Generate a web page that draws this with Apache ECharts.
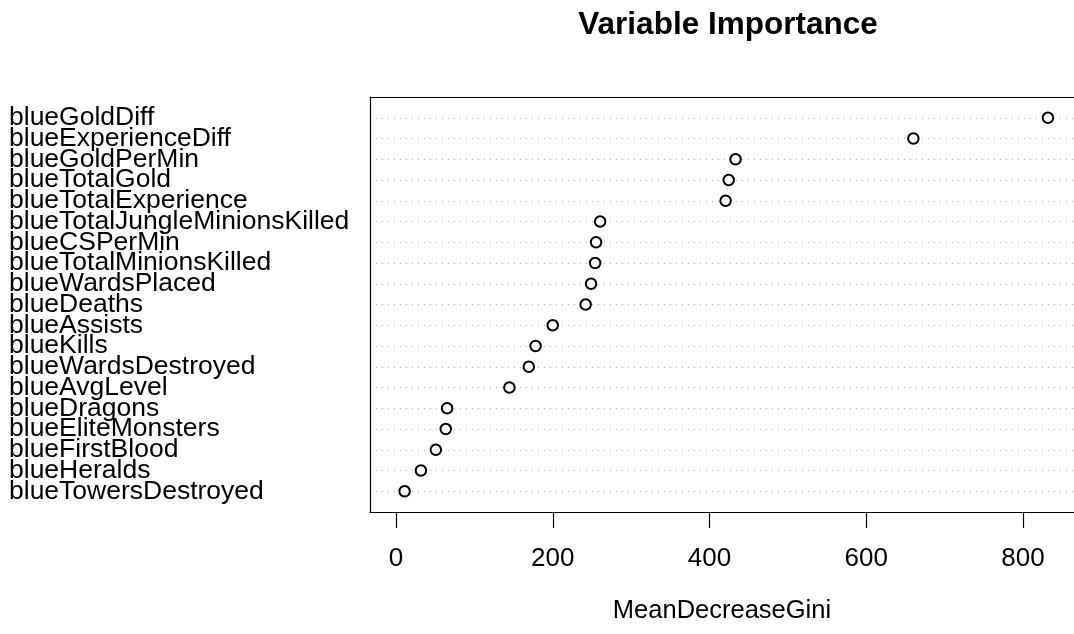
<!DOCTYPE html>
<html>
<head>
<meta charset="utf-8">
<script src="https://cdn.jsdelivr.net/npm/echarts@6/dist/echarts.min.js"></script>
<style>html,body{margin:0;padding:0;background:#fff}#c{width:1074px;height:634px}</style>
</head>
<body>
<div id="c"></div>
<script>
// Variables, top to bottom as shown
var variables = ['blueGoldDiff','blueExperienceDiff','blueGoldPerMin','blueTotalGold','blueTotalExperience','blueTotalJungleMinionsKilled','blueCSPerMin','blueTotalMinionsKilled','blueWardsPlaced','blueDeaths','blueAssists','blueKills','blueWardsDestroyed','blueAvgLevel','blueDragons','blueEliteMonsters','blueFirstBlood','blueHeralds','blueTowersDestroyed'];
var meanDecreaseGini = [831.8, 660.1, 433.2, 424.5, 420.5, 260.4, 255.2, 254.0, 248.8, 241.9, 199.9, 178.0, 169.4, 144.6, 65.1, 63.4, 50.7, 31.7, 10.9];
var xTicks = [0, 200, 400, 600, 800];
var titleText = 'Variable Importance';
var xName = 'MeanDecreaseGini';

var n = variables.length;
// category axis bottom->top with empty padding rows (dotchart ylim 0..n+1)
var cats = [''];
for (var i = n - 1; i >= 0; i--) cats.push(variables[i]);
cats.push(' ');
var pts = [];
for (var j = 0; j < n; j++) pts.push([meanDecreaseGini[j], n - j]);
var vmax = Math.max.apply(null, meanDecreaseGini);
var xMin = -0.04 * vmax, xMax = 1.04 * vmax;

var FONT = '"Liberation Sans", Arial, Helvetica, sans-serif';
var chart = echarts.init(document.getElementById('c'), null, {renderer: 'canvas'});
chart.setOption({
  animation: false,
  backgroundColor: '#ffffff',
  title: {
    text: titleText, left: 723, top: 4, textAlign: 'center',
    textStyle: {fontFamily: FONT, fontWeight: 'bold', fontSize: 31.5, color: '#000'}
  },
  grid: {left: 370, top: 97, width: 710, height: 415, show: false},
  xAxis: [{
    type: 'value', min: xMin, max: xMax, position: 'bottom',
    name: xName, nameLocation: 'middle', nameGap: 86,
    nameTextStyle: {fontFamily: FONT, fontSize: 25.5, color: '#000'},
    axisLine: {show: true, onZero: false, lineStyle: {color: '#000', width: 1.2}},
    axisTick: {show: true, customValues: xTicks, length: 16, lineStyle: {color: '#000', width: 1.2}},
    axisLabel: {show: true, customValues: xTicks, margin: 34, fontFamily: FONT, fontSize: 26, color: '#000'},
    splitLine: {show: false}
  }, {
    type: 'value', min: xMin, max: xMax, position: 'top',
    axisLine: {show: true, onZero: false, lineStyle: {color: '#000', width: 1.2}},
    axisTick: {show: false}, axisLabel: {show: false}, splitLine: {show: false}
  }],
  yAxis: {
    type: 'category', data: cats, boundaryGap: false,
    axisLine: {show: true, onZero: false, lineStyle: {color: '#000', width: 1.2}},
    axisTick: {show: false},
    axisLabel: {show: true, interval: 0, align: 'left', margin: 361, fontFamily: FONT, fontSize: 26.5, color: '#000'},
    splitLine: {show: true, interval: function (idx) { return idx > 0 && idx < n + 1; },
      lineStyle: {color: '#aaaaaa', type: [1, 5], width: 1}}
  },
  series: [{
    type: 'scatter', xAxisIndex: 0, data: pts,
    symbol: 'circle', symbolSize: 10.5,
    itemStyle: {color: '#fff', borderColor: '#000', borderWidth: 2, opacity: 1}
  }]
});
</script>
</body>
</html>
